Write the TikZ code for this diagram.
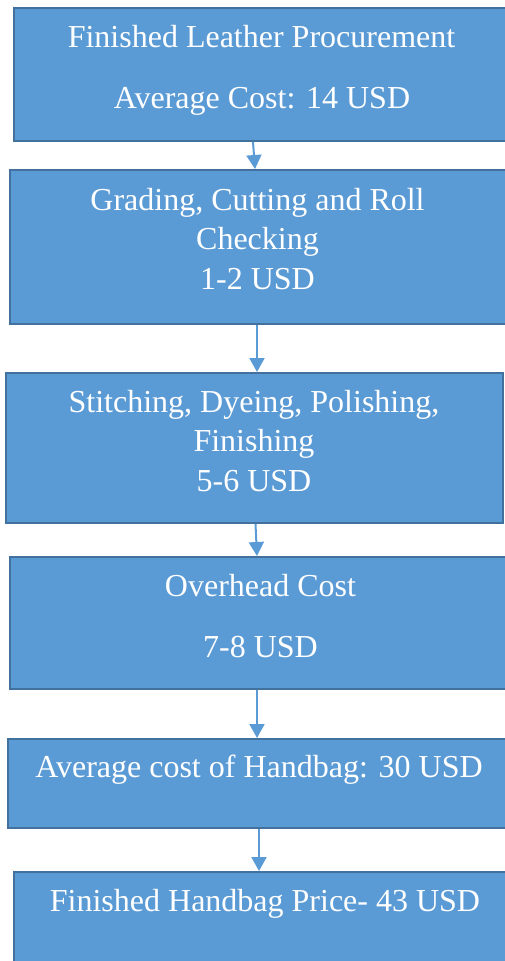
\documentclass[tikz,border=0pt]{standalone}
\usepackage{fontspec}
\setmainfont{Liberation Serif}
\usetikzlibrary{arrows.meta}
\definecolor{boxfill}{HTML}{5B9BD5}
\definecolor{boxline}{HTML}{41719C}
\tikzset{
  box/.style={draw=boxline, fill=boxfill, line width=2pt, inner sep=0pt, anchor=north west},
  txt/.style={text=white, inner sep=0pt, anchor=base, font=\fontsize{32}{40}\selectfont},
  arr/.style={draw=boxfill, line width=2pt, -{Triangle[width=15pt,length=14pt]}}
}
\begin{document}
\begin{tikzpicture}[x=1pt,y=-1pt]
\useasboundingbox (0,0) rectangle (505,961);
\node[box, minimum width=497pt, minimum height=133pt] (b1) at (13,7) {};
\node[box, minimum width=497pt, minimum height=154pt] (b2) at (9,169) {};
\node[box, minimum width=497pt, minimum height=150pt] (b3) at (5,372) {};
\node[box, minimum width=503pt, minimum height=132pt] (b4) at (9,556) {};
\node[box, minimum width=504pt, minimum height=89pt] (b5) at (7,738) {};
\node[box, minimum width=504pt, minimum height=130pt] (b6) at (13,871) {};

\node[txt] (t1a) at (261.5,47) {Finished Leather Procurement};
\node[txt] (t1b) at (262,108) {Average Cost: 14 USD};
\node[txt] (t2a) at (257.5,210) {Grading, Cutting and Roll};
\node[txt] (t2b) at (257.5,249) {Checking};
\node[txt] (t2c) at (257.5,289) {1-2 USD};
\node[txt] (t3a) at (254,412) {Stitching, Dyeing, Polishing,};
\node[txt] (t3b) at (254,451) {Finishing};
\node[txt] (t3c) at (254,491) {5-6 USD};
\node[txt] (t4a) at (260.5,596) {Overhead Cost};
\node[txt] (t4b) at (260.5,657) {7-8 USD};
\node[txt] (t5a) at (259,777) {Average cost of Handbag: 30 USD};
\node[txt] (t6a) at (265,911) {Finished Handbag Price- 43 USD};

\draw[arr] ([xshift=-9.5pt]b1.south) -- ([xshift=-3.5pt]b2.north);
\draw[arr] ([xshift=-1.5pt]b2.south) -- ([xshift=2.5pt]b3.north);
\draw[arr] ([xshift=1pt]b3.south) -- ([xshift=-4.5pt]b4.north);
\draw[arr] ([xshift=-4.5pt]b4.south) -- ([xshift=-3pt]b5.north);
\draw[arr] ([xshift=-1pt]b5.south) -- ([xshift=-7pt]b6.north);
\end{tikzpicture}
\end{document}
